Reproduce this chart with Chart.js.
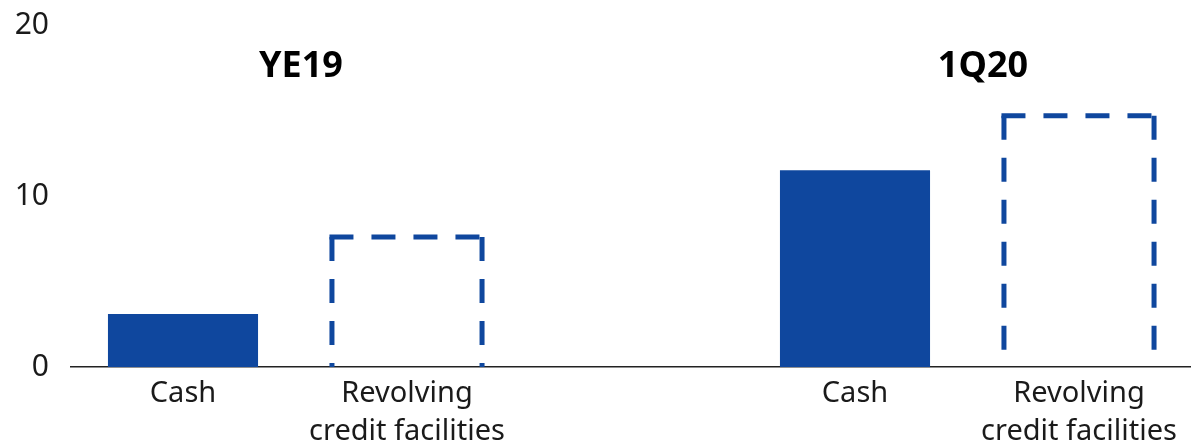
<!DOCTYPE html>
<html>
<head>
<meta charset="utf-8">
<script src="https://cdn.jsdelivr.net/npm/chart.js@4"></script>
<style>
  body { margin: 0; background: #fff; }
  canvas { display: block; }
</style>
</head>
<body>
<canvas id="myChart" width="1191" height="446"></canvas>
<script>
// Datos
const categorias = ['Cash', ['Revolving', 'credit facilities'], '', 'Cash', ['Revolving', 'credit facilities']];
const efectivo = [3.1, null, null, 11.5, null];
const lineasCredito = [null, 7.6, null, null, 14.7];
const periodos = ['YE19', '1Q20'];
const periodoIndices = [[0, 1], [3, 4]];
const ticksY = [0, 10, 20];

const azul = '#0f479e';
const fuente = "'Noto Sans', 'Open Sans', sans-serif";

// bordes discontinuos para las barras de lineas de credito
const bordeDiscontinuo = {
  id: 'bordeDiscontinuo',
  afterDatasetsDraw(chart) {
    const meta = chart.getDatasetMeta(1);
    const ctx = chart.ctx;
    const lw = 5;
    ctx.save();
    ctx.strokeStyle = azul;
    ctx.lineWidth = lw;
    ctx.lineCap = 'butt';
    ctx.setLineDash([24, 18]);
    meta.data.forEach((bar, i) => {
      if (lineasCredito[i] == null) return;
      const { x, y, base, width } = bar.getProps(['x', 'y', 'base', 'width'], true);
      const izq = x - width / 2;
      const der = x + width / 2;
      // lado izquierdo
      ctx.beginPath();
      ctx.moveTo(izq, y);
      ctx.lineTo(izq, base);
      ctx.stroke();
      // arriba
      ctx.beginPath();
      ctx.moveTo(izq - lw / 2, y);
      ctx.lineTo(der + lw / 2, y);
      ctx.stroke();
      // lado derecho
      ctx.beginPath();
      ctx.moveTo(der, y);
      ctx.lineTo(der, base);
      ctx.stroke();
    });
    ctx.restore();
  }
};

// etiquetas de periodo encima de cada grupo
const etiquetasPeriodo = {
  id: 'etiquetasPeriodo',
  afterDraw(chart) {
    const ctx = chart.ctx;
    const xs = chart.scales.x;
    const desplaz = [6, 16];
    ctx.save();
    ctx.font = "bold 36px " + fuente;
    ctx.fillStyle = '#000';
    ctx.textAlign = 'center';
    ctx.textBaseline = 'middle';
    periodos.forEach((p, i) => {
      const [a, b] = periodoIndices[i];
      const cx = (xs.getPixelForValue(a) + xs.getPixelForValue(b)) / 2 + desplaz[i];
      ctx.fillText(p, cx, 67);
    });
    ctx.restore();
  }
};

const ctx = document.getElementById('myChart');
const myChart = new Chart(ctx, {
  type: 'bar',
  data: {
    labels: categorias,
    datasets: [{
      data: efectivo,
      backgroundColor: azul,
      borderWidth: 0,
      barPercentage: 0.67,
      categoryPercentage: 1
    }, {
      data: lineasCredito,
      backgroundColor: 'transparent',
      borderWidth: 0,
      barPercentage: 0.67,
      categoryPercentage: 1
    }]
  },
  options: {
    responsive: false,
    animation: false,
    layout: { padding: { top: 25, right: 0, bottom: 0, left: 0 } },
    datasets: { bar: { grouped: false } },
    scales: {
      x: {
        grid: { display: false, drawTicks: false },
        border: { display: true, color: '#222', width: 1.5 },
        ticks: {
          color: '#1a1a1a',
          padding: 7,
          maxRotation: 0,
          autoSkip: false,
          font: { family: fuente, size: 29, lineHeight: 1.33 }
        },
        afterFit(scale) {
          scale.height = 79;
          scale.paddingLeft = 0;
          scale.paddingRight = 0;
        }
      },
      y: {
        min: 0,
        max: 20,
        grid: { display: false, drawTicks: false },
        border: { display: false },
        afterBuildTicks(scale) { scale.ticks = ticksY.map(v => ({ value: v })); },
        ticks: {
          color: '#1a1a1a',
          padding: 22,
          font: { family: fuente, size: 30 }
        },
        afterFit(scale) {
          scale.width = 71;
          scale.paddingTop = 0;
          scale.paddingBottom = 0;
        }
      }
    },
    plugins: {
      legend: { display: false },
      tooltip: { enabled: false }
    }
  },
  plugins: [bordeDiscontinuo, etiquetasPeriodo]
});
</script>
</body>
</html>
